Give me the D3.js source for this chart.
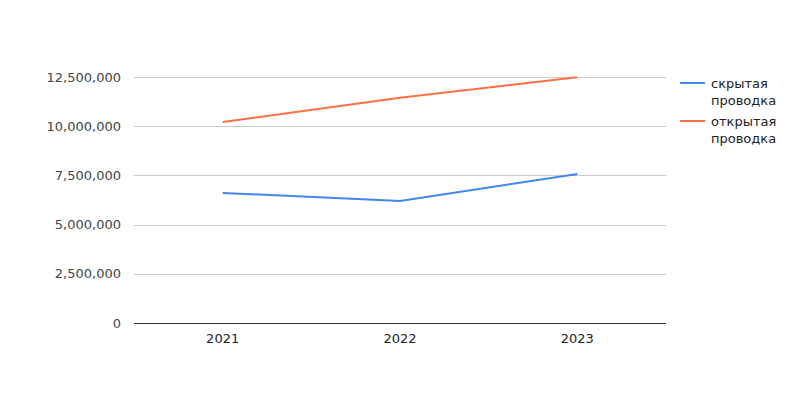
<!DOCTYPE html>
<html><head><meta charset="utf-8">
<script src="https://cdn.jsdelivr.net/npm/d3@7"></script>
<style>body{margin:0;background:#fff}svg{display:block}text{font-family:"DejaVu Sans",sans-serif}</style>
</head><body><svg id="c" width="800" height="400"></svg>
<script>
const categories = ["2021", "2022", "2023"];
const seriesNames = ["скрытая проводка", "открытая проводка"];
const hiddenValues = [6610000, 6200000, 7570000];
const openValues = [10210000, 11440000, 12490000];
const yTicks = [0, 2500000, 5000000, 7500000, 10000000, 12500000];
const colors = ["#4285f4", "#ff7043"];

(function () {
const svg = d3.select("#c");
const plotL = 134, plotR = 666, plotT = 77, plotB = 323;
const x = d3.scalePoint().domain(categories).range([plotL, plotR]).padding(0.5);
const y = d3.scaleLinear().domain([0, 12500000]).range([plotB, plotT]);
const fmt = d3.format(",");

// gridlines
svg.append("g").selectAll("line").data(yTicks.filter(d => d > 0)).join("line")
  .attr("x1", plotL).attr("x2", plotR)
  .attr("y1", d => Math.round(y(d)) + 0.5).attr("y2", d => Math.round(y(d)) + 0.5)
  .attr("stroke", "#cccccc").attr("stroke-width", 1);

// y labels
svg.append("g").selectAll("text").data(yTicks).join("text")
  .attr("x", 121).attr("y", d => y(d)).attr("dy", "0.35em")
  .attr("text-anchor", "end").attr("font-size", 13).attr("fill", "#444")
  .text(d => fmt(d));

// baseline
svg.append("line").attr("x1", plotL).attr("x2", plotR)
  .attr("y1", plotB + 0.5).attr("y2", plotB + 0.5)
  .attr("stroke", "#333").attr("stroke-width", 1);

// x labels
svg.append("g").selectAll("text").data(categories).join("text")
  .attr("x", d => x(d)).attr("y", 343)
  .attr("text-anchor", "middle").attr("font-size", 13).attr("fill", "#222")
  .text(d => d);

const line = d3.line().x((d, i) => x(categories[i])).y(d => y(d));
[hiddenValues, openValues].forEach((vals, i) => {
  svg.append("path").datum(vals).attr("d", line)
    .attr("fill", "none").attr("stroke", colors[i]).attr("stroke-width", 2);
});

// legend
const legY = [83, 121];
seriesNames.forEach((name, i) => {
  const g = svg.append("g");
  g.append("line").attr("x1", 680).attr("x2", 705)
    .attr("y1", legY[i]).attr("y2", legY[i])
    .attr("stroke", colors[i]).attr("stroke-width", 2);
  const words = name.split(" ");
  words.forEach((w, j) => {
    g.append("text").attr("x", 711).attr("y", legY[i] + j * 17).attr("dy", "0.35em")
      .attr("font-size", 13).attr("fill", "#222").text(w);
  });
});
})();
</script></body></html>
